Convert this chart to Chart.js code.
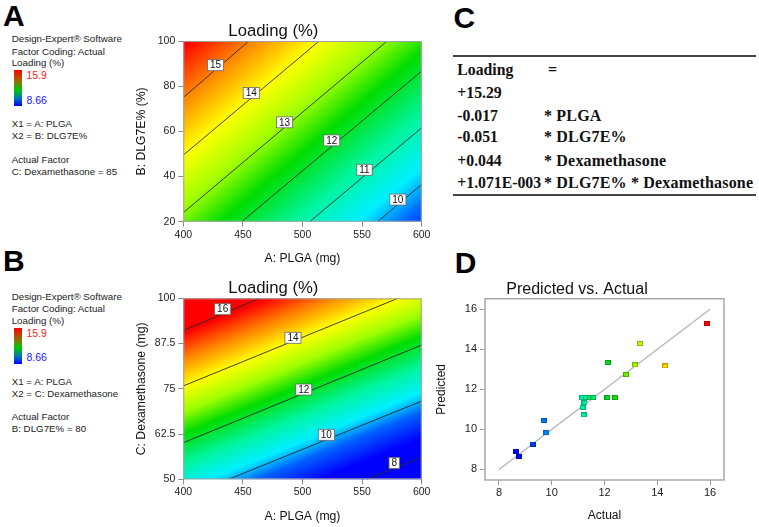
<!DOCTYPE html>
<html><head><meta charset="utf-8">
<script src="https://cdn.jsdelivr.net/npm/chart.js@4.4.1/dist/chart.umd.min.js"></script>
<style>
body{margin:0;width:759px;height:527px;background:#fff;position:relative;overflow:hidden;font-family:"Liberation Sans",Arial,sans-serif;}
.abs{position:absolute;white-space:nowrap;}
.big{font-weight:bold;font-size:30px;line-height:30px;color:#000;}
.note{font-size:9.75px;line-height:12px;color:#222;}
.bar{position:absolute;width:8px;background:linear-gradient(#ff0000,#9a6a00 30%,#00c800 55%,#0070c0 80%,#0000ff);}
.eq{font-family:"Liberation Serif","Times New Roman",serif;font-weight:bold;font-size:15.75px;line-height:20px;color:#111;}
.eq2{letter-spacing:0.18px;font-size:16px;}
.rule{position:absolute;left:453px;width:303px;background:#444;}
canvas{position:absolute;}
</style>
</head><body>

<div class="abs big" style="left:3px;top:1px;">A</div>
<div class="abs big" style="left:3px;top:246px;">B</div>
<div class="abs big" style="left:453.5px;top:3px;">C</div>
<div class="abs big" style="left:454.7px;top:247.8px;">D</div>

<!-- Panel A notes -->
<div class="abs note" style="left:11.7px;top:33.3px;">Design-Expert® Software</div>
<div class="abs note" style="left:11.7px;top:45.7px;">Factor Coding: Actual</div>
<div class="abs note" style="left:11.7px;top:57.3px;">Loading (%)</div>
<div class="bar" style="left:14px;top:70px;height:36px;"></div>
<div class="abs note" style="left:26.5px;top:69px;color:#ff2020;font-size:10.5px;">15.9</div>
<div class="abs note" style="left:26.5px;top:94px;color:#2020ff;font-size:10.5px;">8.66</div>
<div class="abs note" style="left:11.7px;top:118.3px;">X1 = A: PLGA</div>
<div class="abs note" style="left:11.7px;top:130px;">X2 = B: DLG7E%</div>
<div class="abs note" style="left:11.7px;top:154px;">Actual Factor</div>
<div class="abs note" style="left:11.7px;top:166.3px;">C: Dexamethasone = 85</div>

<!-- Panel B notes -->
<div class="abs note" style="left:11.7px;top:290.7px;">Design-Expert® Software</div>
<div class="abs note" style="left:11.7px;top:303.3px;">Factor Coding: Actual</div>
<div class="abs note" style="left:11.7px;top:315px;">Loading (%)</div>
<div class="bar" style="left:14px;top:327.7px;height:36.3px;"></div>
<div class="abs note" style="left:26.5px;top:326.7px;color:#ff2020;font-size:10.5px;">15.9</div>
<div class="abs note" style="left:26.5px;top:351.3px;color:#2020ff;font-size:10.5px;">8.66</div>
<div class="abs note" style="left:11.7px;top:375.7px;">X1 = A: PLGA</div>
<div class="abs note" style="left:11.7px;top:387.7px;">X2 = C: Dexamethasone</div>
<div class="abs note" style="left:11.7px;top:411.3px;">Actual Factor</div>
<div class="abs note" style="left:11.7px;top:423.3px;">B: DLG7E% = 80</div>

<!-- Panel C equation -->
<div class="rule" style="top:55.3px;height:1.5px;"></div>
<div class="abs eq" style="left:457.3px;top:60px;">Loading</div>
<div class="abs eq eq2" style="left:548px;top:60px;">=</div>
<div class="abs eq" style="left:457.3px;top:82.7px;">+15.29</div>
<div class="abs eq" style="left:457.3px;top:106px;">-0.017</div>
<div class="abs eq eq2" style="left:544px;top:106px;">* PLGA</div>
<div class="abs eq" style="left:457.3px;top:127.3px;">-0.051</div>
<div class="abs eq eq2" style="left:544px;top:127.3px;">* DLG7E%</div>
<div class="abs eq" style="left:457.3px;top:150.7px;">+0.044</div>
<div class="abs eq eq2" style="left:544px;top:150.7px;">* Dexamethasone</div>
<div class="abs eq" style="left:457.3px;top:173.3px;">+1.071E-003</div>
<div class="abs eq eq2" style="left:544px;top:173.3px;">* DLG7E% * Dexamethasone</div>
<div class="rule" style="top:194px;height:2px;"></div>

<canvas id="cA" width="310" height="272" style="left:125px;top:0px;"></canvas>
<canvas id="cB" width="310" height="269" style="left:125px;top:258px;"></canvas>
<canvas id="cD" width="329" height="269" style="left:430px;top:258px;"></canvas>

<script>
// ---------- Panel A: contour lines (PLGA vs DLG7E%) ----------
const levelsA = [15, 14, 13, 12, 11, 10];
const startA  = [[400, 75], [400, 49.5], [400, 24], [449, 20], [506, 20], [563, 20]];
const endA    = [[455, 100], [514, 100], [571, 100], [600, 86.7], [600, 61.6], [600, 36.5]];
const labelA  = [[427, 89.3], [457, 77], [485, 64], [524.5, 56], [552, 43], [580, 29.8]];
const xTicksAB = [400, 450, 500, 550, 600];
const yTicksA  = [20, 40, 60, 80, 100];

// ---------- Panel B: contour lines (PLGA vs Dexamethasone) ----------
const levelsB = [16, 14, 12, 10, 8];
const startB  = [[400, 91.1], [400, 75.8], [400, 60.1], [438, 50], [554, 50]];
const endB    = [[464, 100], [580, 100], [600, 87.1], [600, 71.6], [600, 56.1]];
const labelB  = [[433, 97], [492, 89.1], [501, 74.8], [520, 62.3], [577, 54.5]];
const yTicksB = [50, 62.5, 75, 87.5, 100];

// ---------- Panel D: predicted vs actual ----------
const actual    = [15.88, 13.35, 14.30, 12.12, 13.16, 12.82, 12.11, 12.40, 11.15, 11.30, 11.45, 11.58, 11.24, 11.17, 11.21, 9.70, 9.80, 9.28, 8.65, 8.77];
const predicted = [15.30, 14.29, 13.17, 13.33, 13.22, 12.74, 11.59, 11.59, 11.59, 11.59, 11.59, 11.59, 11.33, 11.10, 10.72, 10.43, 9.84, 9.26, 8.88, 8.63];
const refLineX = [8, 16];
const refLineY = [8, 16];
const dTicks = [8, 10, 12, 14, 16];

// colour scale (response value -> colour)
const colorStops = [[8.66,'#0000ff'],[9.6,'#0060ff'],[10.3,'#00f0ff'],[11.2,'#00f5a0'],[12.3,'#00dd00'],[13.1,'#a0ff00'],[14.0,'#ffff00'],[15.0,'#ff8000'],[15.9,'#ff0000']];

function hex2rgb(h){return [parseInt(h.substr(1,2),16),parseInt(h.substr(3,2),16),parseInt(h.substr(5,2),16)];}
function colorFor(v){
  if (v <= colorStops[0][0]) return colorStops[0][1];
  for (let i=1;i<colorStops.length;i++){
    if (v <= colorStops[i][0]){
      const [v0,c0]=colorStops[i-1],[v1,c1]=colorStops[i];
      const t=(v-v0)/(v1-v0), a=hex2rgb(c0), b=hex2rgb(c1);
      return 'rgb('+a.map((x,k)=>Math.round(x+(b[k]-x)*t)).join(',')+')';
    }
  }
  return colorStops[colorStops.length-1][1];
}

Chart.defaults.font.family = '"Liberation Sans", Arial, sans-serif';
Chart.defaults.color = '#222';

function contourPlugin(levels, starts, ends, labels){
  return {
    id: 'contourBg',
    beforeDatasetsDraw(chart){
      const {ctx, chartArea: ca, scales:{x, y}} = chart;
      const segs = starts.map((s,i)=>[[x.getPixelForValue(s[0]), y.getPixelForValue(s[1])],[x.getPixelForValue(ends[i][0]), y.getPixelForValue(ends[i][1])]]);
      let dx=0, dy=0;
      segs.forEach(([a,b])=>{const ux=b[0]-a[0], uy=b[1]-a[1], l=Math.hypot(ux,uy); dx+=ux/l; dy+=uy/l;});
      const l=Math.hypot(dx,dy); dx/=l; dy/=l;
      const nx=-dy, ny=dx;
      const s=segs.map(([a,b])=>nx*(a[0]+b[0])/2+ny*(a[1]+b[1])/2);
      const n=levels.length;
      const mL=levels.reduce((p,c)=>p+c,0)/n, mS=s.reduce((p,c)=>p+c,0)/n;
      let num=0, den=0;
      for(let i=0;i<n;i++){num+=(levels[i]-mL)*(s[i]-mS); den+=(levels[i]-mL)**2;}
      const bb=num/den, aa=mS-bb*mL;
      const lo=colorStops[0][0], hi=colorStops[colorStops.length-1][0];
      const s0=aa+bb*lo, s1=aa+bb*hi;
      const g=ctx.createLinearGradient(nx*s0, ny*s0, nx*s1, ny*s1);
      colorStops.forEach(([v,c])=>g.addColorStop((v-lo)/(hi-lo), c));
      ctx.save(); ctx.fillStyle=g; ctx.fillRect(ca.left, ca.top, ca.width, ca.height); ctx.restore();
    },
    afterDatasetsDraw(chart){
      const {ctx, chartArea: ca, scales:{x, y}} = chart;
      ctx.save();
      ctx.font = '10px "Liberation Sans", Arial, sans-serif';
      ctx.textAlign='center'; ctx.textBaseline='middle';
      labels.forEach((p,i)=>{
        const px=x.getPixelForValue(p[0]), py=y.getPixelForValue(p[1]);
        const t=String(levels[i]), w=ctx.measureText(t).width+5, h=11;
        ctx.fillStyle='#fff'; ctx.fillRect(px-w/2, py-h/2, w, h);
        ctx.strokeStyle='#666'; ctx.lineWidth=0.8; ctx.strokeRect(px-w/2, py-h/2, w, h);
        ctx.fillStyle='#111'; ctx.fillText(t, px, py+0.5);
      });
      ctx.strokeStyle='#a0a0a0'; ctx.lineWidth=1;
      ctx.strokeRect(ca.left+0.5, ca.top+0.5, ca.width-1, ca.height-1);
      ctx.restore();
    }
  };
}

function contourConfig(levels, starts, ends, labels, yMin, yMax, yTicks, yTitle, opts){
  return {
    type: 'scatter',
    data: { datasets: starts.map((s,i)=>({
      data: [{x:s[0], y:s[1]}, {x:ends[i][0], y:ends[i][1]}],
      showLine: true, borderColor:'#2a2a2a', borderWidth:0.9, pointRadius:0, fill:false
    })) },
    options: {
      responsive:false, animation:false, events:[], devicePixelRatio:1,
      layout:{padding:{left:0, right:opts.padRight, top:0, bottom:0}},
      plugins:{
        legend:{display:false}, tooltip:{enabled:false},
        title:{display:true, text:'Loading (%)', color:'#111', font:{size:16.7, weight:'normal'}, padding:{top:opts.titleTop, bottom:opts.titleBottom}}
      },
      scales:{
        x:{type:'linear', min:400, max:600,
          afterBuildTicks:sc=>{sc.ticks=xTicksAB.map(v=>({value:v}));},
          afterFit:sc=>{sc.height=opts.xHeight;},
          ticks:{font:{size:10.5}, color:'#222', padding:2, maxRotation:0, autoSkip:false},
          grid:{drawOnChartArea:false, drawTicks:true, tickLength:5, color:'#888'},
          border:{display:false},
          title:{display:true, text:'A: PLGA (mg)', color:'#111', font:{size:12.2}, padding:{top:0, bottom:opts.xTitleBottom}}
        },
        y:{type:'linear', min:yMin, max:yMax,
          afterBuildTicks:sc=>{sc.ticks=yTicks.map(v=>({value:v}));},
          afterFit:sc=>{sc.width=opts.yWidth;},
          ticks:{font:{size:10.5}, color:'#222', padding:3, autoSkip:false},
          grid:{drawOnChartArea:false, drawTicks:true, tickLength:5, color:'#888'},
          border:{display:false},
          title:{display:true, text:yTitle, color:'#111', font:{size:12.2}, padding:{top:opts.yTitleTop, bottom:0}}
        }
      }
    },
    plugins:[contourPlugin(levels, starts, ends, labels)]
  };
}

new Chart(document.getElementById('cA'), contourConfig(levelsA, startA, endA, labelA, 20, 100, yTicksA, 'B: DLG7E% (%)',
  {padRight:13.3, titleTop:21, titleBottom:0, xHeight:50.3, xTitleBottom:5.7, yWidth:58.3, yTitleTop:9}));
new Chart(document.getElementById('cB'), contourConfig(levelsB, startB, endB, labelB, 50, 100, yTicksB, 'C: Dexamethasone (mg)',
  {padRight:13.3, titleTop:20, titleBottom:0.3, xHeight:47.7, xTitleBottom:3, yWidth:58.3, yTitleTop:9}));

// markers for panel D
function marker(color){
  const c=document.createElement('canvas'); c.width=6; c.height=5;
  const g=c.getContext('2d');
  g.fillStyle=color; g.fillRect(0,0,6,5);
  g.strokeStyle='rgba(0,0,0,0.28)'; g.lineWidth=1; g.strokeRect(0.5,0.5,5,4);
  return c;
}
const markers = actual.map(v=>marker(colorFor(v)));

const framePlugin = {
  id:'frame',
  afterDatasetsDraw(chart){
    const {ctx, chartArea:ca} = chart;
    ctx.save(); ctx.strokeStyle='#a8a8a8'; ctx.lineWidth=1.5;
    ctx.strokeRect(ca.left, ca.top, ca.width, ca.height); ctx.restore();
  }
};

new Chart(document.getElementById('cD'), {
  type:'scatter',
  data:{ datasets:[
    { data: actual.map((v,i)=>({x:v, y:predicted[i]})), pointStyle: c=>markers[c.dataIndex], pointRadius:3, showLine:false },
    { data: refLineX.map((v,i)=>({x:v, y:refLineY[i]})), showLine:true, pointRadius:0, borderColor:'#b4b4b4', borderWidth:1.3 }
  ]},
  options:{
    responsive:false, animation:false, events:[], devicePixelRatio:1,
    layout:{padding:{left:0, right:35, top:0, bottom:0}},
    plugins:{
      legend:{display:false}, tooltip:{enabled:false},
      title:{display:true, text:'Predicted vs. Actual', color:'#111', font:{size:16, weight:'normal'}, padding:{top:21.5, bottom:0}}
    },
    scales:{
      x:{type:'linear', min:7.47, max:16.53,
        afterBuildTicks:sc=>{sc.ticks=dTicks.map(v=>({value:v}));},
        afterFit:sc=>{sc.height=47;},
        ticks:{font:{size:11}, color:'#222', padding:1, maxRotation:0, autoSkip:false},
        grid:{drawOnChartArea:false, drawTicks:true, tickLength:5, color:'#999'},
        border:{display:false},
        title:{display:true, text:'Actual', color:'#111', font:{size:12}, padding:{top:0, bottom:3.8}}
      },
      y:{type:'linear', min:7.47, max:16.53,
        afterBuildTicks:sc=>{sc.ticks=dTicks.map(v=>({value:v}));},
        afterFit:sc=>{sc.width=55;},
        ticks:{font:{size:11}, color:'#222', padding:3, autoSkip:false},
        grid:{drawOnChartArea:false, drawTicks:true, tickLength:5, color:'#999'},
        border:{display:false},
        title:{display:true, text:'Predicted', color:'#111', font:{size:12}, padding:{top:4.4, bottom:0}}
      }
    }
  },
  plugins:[framePlugin]
});
</script>
</body></html>
